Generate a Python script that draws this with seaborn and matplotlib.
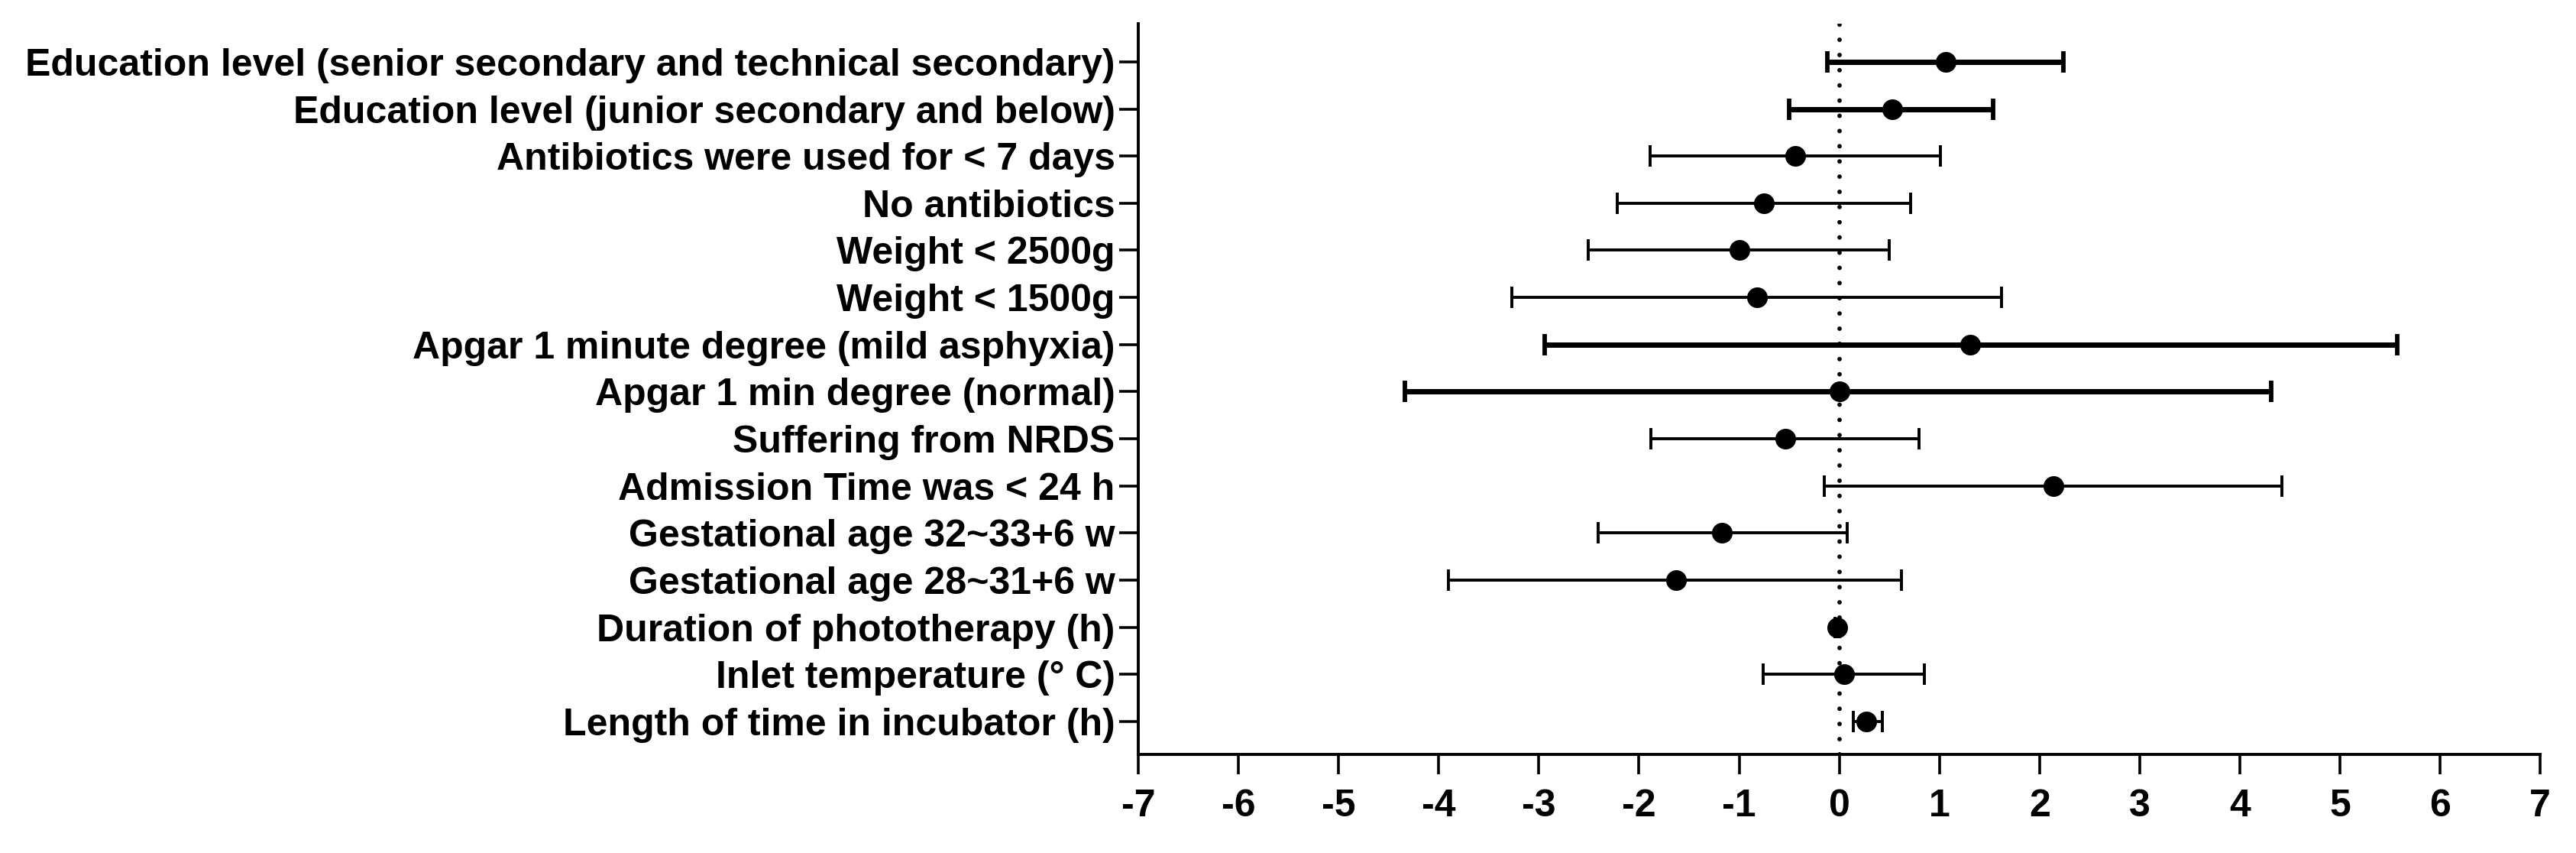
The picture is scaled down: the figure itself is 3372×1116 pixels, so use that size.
import numpy as np
import pandas as pd
import seaborn as sns
import matplotlib
matplotlib.use("Agg")
import matplotlib.pyplot as plt

# forest plot values (top row first)
labels = [
    "Education level (senior secondary and technical secondary)",
    "Education level (junior secondary and below)",
    "Antibiotics were used for < 7 days",
    "No antibiotics",
    "Weight < 2500g",
    "Weight < 1500g",
    "Apgar 1 minute degree (mild asphyxia)",
    "Apgar 1 min degree (normal)",
    "Suffering from NRDS",
    "Admission Time was < 24 h",
    "Gestational age 32~33+6 w",
    "Gestational age 28~31+6 w",
    "Duration of phototherapy (h)",
    "Inlet temperature (° C)",
    "Length of time in incubator (h)",
]
estimate = [1.06, 0.53, -0.44, -0.75, -1.00, -0.82, 1.31, 0.00, -0.54, 2.14, -1.17, -1.63, -0.02, 0.05, 0.27]
lower = [-0.12, -0.50, -1.89, -2.22, -2.51, -3.27, -2.94, -4.34, -1.88, -0.15, -2.41, -3.90, -0.04, -0.76, 0.14]
upper = [2.24, 1.54, 1.01, 0.71, 0.50, 1.62, 5.57, 4.31, 0.80, 4.42, 0.08, 0.62, 0.00, 0.85, 0.43]
bold_rows = [0, 1, 6, 7]

df = pd.DataFrame({"label": labels, "est": estimate, "lo": lower, "hi": upper})
df["pos"] = np.arange(len(df))
df["thick"] = df["pos"].isin(bold_rows)

sns.set_style("ticks", {"axes.edgecolor": "black", "xtick.color": "black",
                        "ytick.color": "black", "text.color": "black",
                        "axes.labelcolor": "black"})
plt.rcParams["font.family"] = ["Liberation Sans", "DejaVu Sans"]
plt.rcParams["font.weight"] = "bold"
plt.rcParams["axes.unicode_minus"] = False

fig = plt.figure(figsize=(16.86, 5.58), dpi=200)
ax = fig.add_axes([0.4419, 0.1156, 0.5442, 0.8566])

# dotted reference line at zero
ax.axvline(0, color="black", lw=2.1, linestyle=(0, (0.01, 3.4)),
           dash_capstyle="round", zorder=1)

for thick, sub in df.groupby("thick"):
    lw = 2.5 if thick else 1.4
    ax.errorbar(sub["est"], sub["pos"],
                xerr=[sub["est"] - sub["lo"], sub["hi"] - sub["est"]],
                fmt="none", ecolor="black", elinewidth=lw,
                capsize=4.9, capthick=2.1 if thick else 1.4, zorder=2)

sns.scatterplot(data=df, x="est", y="pos", color="black", s=95,
                edgecolor="black", linewidth=0, zorder=3, ax=ax, legend=False)

ax.set_xlim(-7, 7)
ax.set_ylim(len(df) - 1 + 0.70, -0.81)
ax.set_xticks(range(-7, 8))
ax.set_yticks(df["pos"])
ax.set_yticklabels(df["label"])
ax.set_xlabel("")
ax.set_ylabel("")

sns.despine(ax=ax)
for side in ["left", "bottom"]:
    ax.spines[side].set_linewidth(1.4)
    ax.spines[side].set_color("black")
ax.tick_params(axis="x", length=9.3, width=1.3, pad=7, labelsize=18, colors="black")
ax.tick_params(axis="y", length=9, width=1.3, pad=2, labelsize=18, colors="black")
for t in ax.get_xticklabels() + ax.get_yticklabels():
    t.set_fontweight("bold")

fig.savefig("out.png", dpi=200)
